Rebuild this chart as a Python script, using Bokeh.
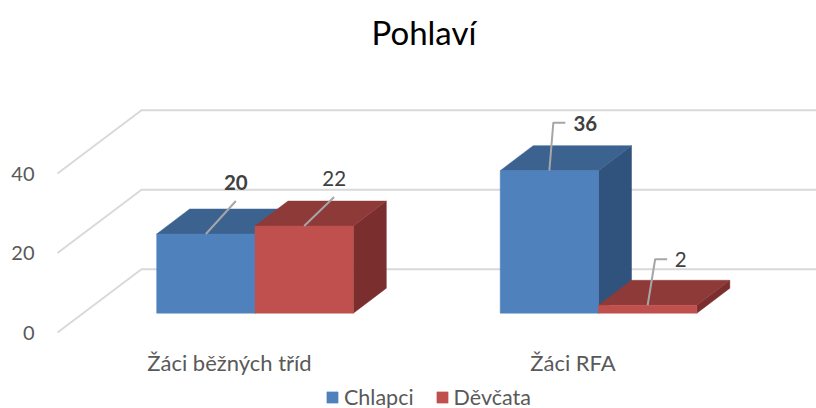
from bokeh.plotting import figure
from bokeh.models import Range1d, LinearAxis, FixedTicker, Legend, LegendItem
from bokeh.core.properties import value
from bokeh.embed import file_html
from bokeh.resources import INLINE

title = "Pohlaví"
categories = ["Žáci běžných tříd", "Žáci RFA"]
chlapci = [20, 36]
devcata = [22, 2]
value_ticks = [0, 20, 40]
FONT = "Lato"

# layout scale: pixels per category step / per value unit
SX, SY = 343.5, 3.96
L, R, T, B = 45, 816, 60, 408
X0, Y0 = 229, 312.7
def ux(px): return px / SX
def uy(px): return px / SY

p = figure(width=816, height=408, frame_width=R - L, frame_height=B - T, output_backend="svg", toolbar_location=None,
           x_range=Range1d(ux(L - X0), ux(R - X0)),
           y_range=Range1d(uy(Y0 - B), uy(Y0 - T)),
           min_border_left=L, min_border_right=0, min_border_top=T, min_border_bottom=0,
           outline_line_color=None, background_fill_color=None, border_fill_color="white")
p.grid.visible = False
p.title.text = title
p.title.text_font = FONT
p.title.text_font_size = "33px"
p.title.text_font_style = "normal"
p.title.text_color = "#000000"
p.title.align = "left"
p.title.offset = 326
p.title.standoff = 18

# value axis, on the front edge of the floor
p.yaxis.visible = False
p.extra_y_ranges["v"] = Range1d((332 - B) / 3.975, (332 - T) / 3.975)
ya = LinearAxis(y_range_name="v", ticker=FixedTicker(ticks=value_ticks))
ya.axis_line_color = None
ya.major_tick_line_color = None
ya.minor_tick_line_color = None
ya.major_label_text_font = FONT
ya.major_label_text_font_size = "20px"
ya.major_label_text_color = "#595959"
ya.major_label_standoff = 5
p.add_layout(ya, "left")

xa = p.xaxis[0]
xa.fixed_location = uy(Y0 - 345)
xa.ticker = FixedTicker(ticks=list(range(len(categories))))
xa.major_label_overrides = {i: c for i, c in enumerate(categories)}
xa.axis_line_color = None
xa.major_tick_line_color = None
xa.minor_tick_line_color = None
xa.major_label_text_font = FONT
xa.major_label_text_font_size = "22px"
xa.major_label_text_color = "#595959"
xa.major_label_standoff = -3

# gridlines: floor/wall
GRID = "#D9D9D9"
for v in value_ticks:
    wall_left = ux(141 - X0)
    back = v * 3.975 / SY + uy(Y0 - 268.7)
    front = v * 3.975 / SY + uy(Y0 - 332)
    p.line([ux(57 - X0), wall_left, ux(R - X0)], [front, back, back], line_color=GRID, line_width=2)

# bars in pseudo-3D
DX, DY = ux(33), uy(25)
W = ux(98.3)
OFF = ux(254.5 - 229)

def bar(cat_i, side, val, front, top, shade):
    x0 = cat_i + OFF + (-W if side == 0 else 0)
    x1 = x0 + W
    p.patch([x1, x1 + DX, x1 + DX, x1], [0, DY, val + DY, val], fill_color=shade, line_color=shade, line_width=0.5)
    p.patch([x0, x1, x1 + DX, x0 + DX], [val, val, val + DY, val + DY], fill_color=top, line_color=top, line_width=0.5)

series = [(chlapci, "Chlapci", "#4F81BD", "#3C6390", "#30537D"),
          (devcata, "Děvčata", "#C0504D", "#8E3A38", "#7A2F2E")]
items = []
for i in range(len(categories)):
    for s, (vals, name, front, top, shade) in enumerate(series):
        bar(i, s, vals[i], front, top, shade)
        x = i + OFF + (-W / 2 if s == 0 else W / 2)
        r = p.vbar(x=[x], width=W, top=[vals[i]], bottom=[0], fill_color=front, line_color=front, line_width=0.5)
        if i == 0:
            items.append(LegendItem(label=name, renderers=[r]))

# leaders & data labels: (dx,dy) pixels from the bar's top-centre
leaders = [
    [[(0, 0), (30, 33)], [(0, 0), (30, 29)]],
    [[(0, 0), (4, 48), (16, 48)], [(0, 0), (7.5, 46), (19.5, 46)]],
]
label_off = [[(30, 52), (30, 48)], [(36, 47), (33, 46)]]
for i in range(len(categories)):
    for s, (vals, name, *_ ) in enumerate(series):
        cx = i + OFF + (-W / 2 if s == 0 else W / 2)
        pts = leaders[i][s]
        p.line([cx + ux(a) for a, b in pts], [vals[i] + uy(b) for a, b in pts],
               line_color="#A6A6A6", line_width=2)
        dx, dy = label_off[i][s]
        p.text([cx + ux(dx)], [vals[i] + uy(dy)], text=[str(vals[i])],
               text_font=value(FONT), text_font_size="20.5px", text_color="#404040",
               text_font_style="bold" if s == 0 else "normal",
               text_align="center", text_baseline="middle")

leg = Legend(items=items, orientation="horizontal", location=(280, -2),
             background_fill_alpha=0, border_line_color=None, margin=0, padding=0,
             glyph_width=14, glyph_height=14, label_standoff=5, spacing=21,
             label_text_font=FONT, label_text_font_size="21.5px", label_text_color="#595959")
p.add_layout(leg, "center")

open("out.html", "w").write(file_html(p, INLINE))
